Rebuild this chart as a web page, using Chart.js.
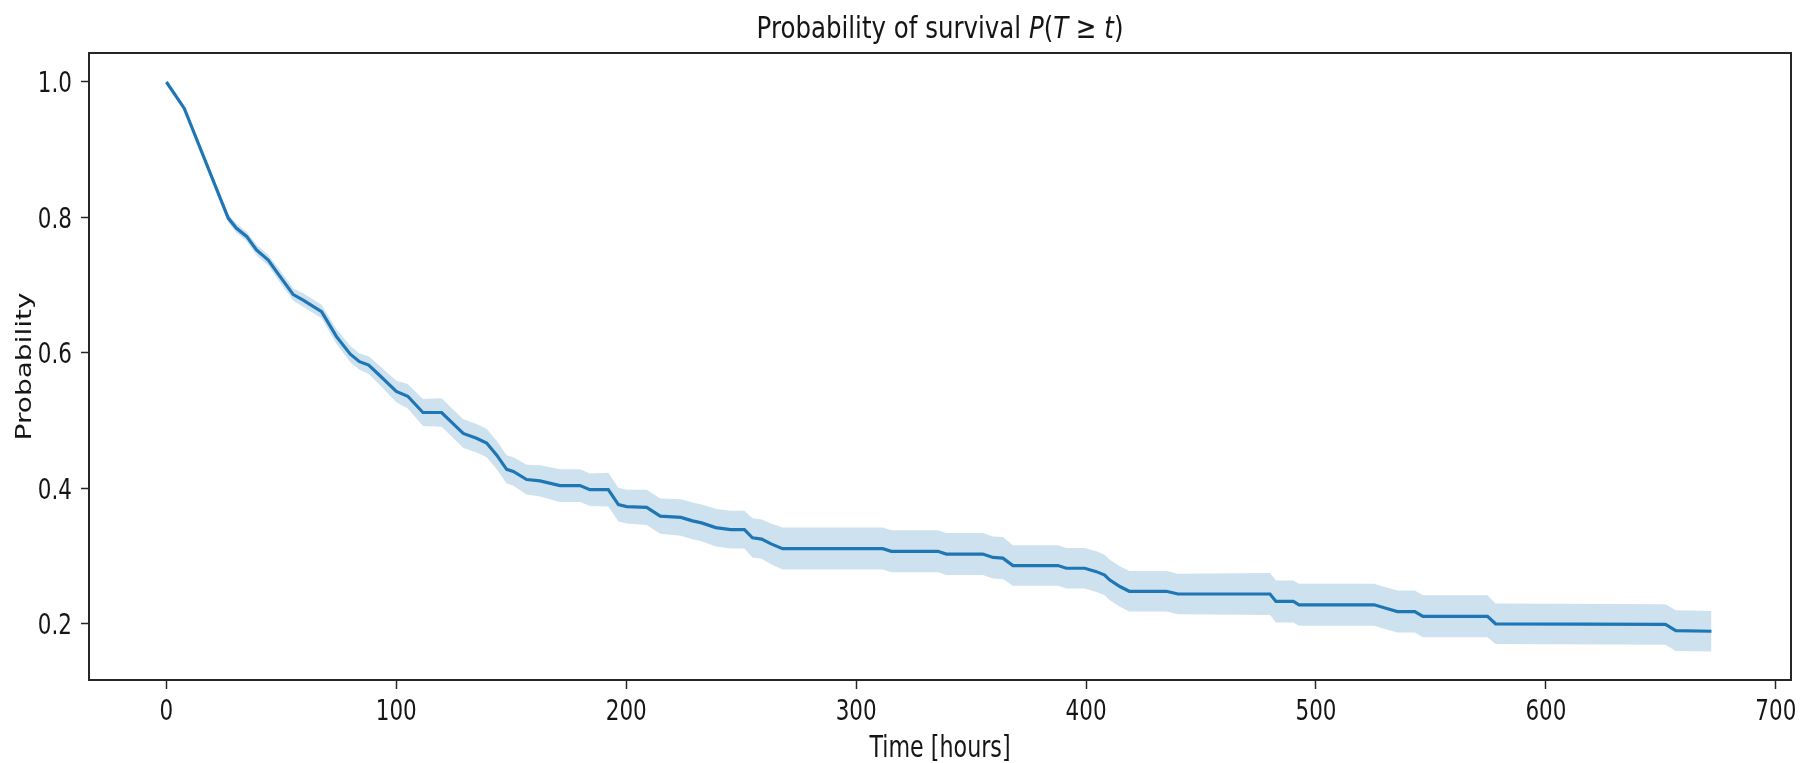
<!DOCTYPE html>
<html>
<head>
<meta charset="utf-8">
<script src="https://cdn.jsdelivr.net/npm/chart.js@4.4.1/dist/chart.umd.min.js"></script>
<style>
  html, body { margin: 0; padding: 0; background: #fff; }
  #wrap { width: 1811px; height: 763px; position: relative; }
</style>
</head>
<body>
<div id="wrap"><canvas id="survChart"></canvas></div>
<script>
// survival curve
const times = [0, 7.8, 26.9, 30.5, 34.9, 39.2, 44.3, 49.4, 55.2, 59.5, 67.5, 74, 80, 84, 88, 92.7,
  100, 105, 111.6, 119.7, 129.1, 134.9, 139.3, 143.7, 148, 150.9, 156.7, 162.5, 171.2, 179.9,
  184.2, 192.2, 196.6, 200.2, 208.9, 214.8, 223.8, 228.8, 232.8, 238.9, 245.4, 251.4, 254.9,
  258.9, 263, 268, 311.6, 315.3, 335.6, 339.2, 355.1, 359.5, 363.8, 368.2, 387.8, 391.4, 399.4,
  404.5, 408.1, 410.2, 414.7, 418.8, 434.9, 440, 480, 482.6, 490.2, 492.6, 525.3, 530.4, 535.4,
  543, 546.5, 574.6, 578.1, 652, 656.5, 672];

const survival = [1.0, 0.961, 0.799, 0.784, 0.772, 0.752, 0.737, 0.713, 0.686, 0.678, 0.661, 0.624,
  0.598, 0.587, 0.582, 0.567, 0.543, 0.536, 0.512, 0.512, 0.481, 0.474, 0.467, 0.449, 0.428, 0.425,
  0.413, 0.411, 0.404, 0.404, 0.398, 0.398, 0.376, 0.373, 0.372, 0.359, 0.357, 0.352, 0.349, 0.342,
  0.339, 0.339, 0.327, 0.325, 0.318, 0.311, 0.311, 0.307, 0.307, 0.303, 0.303, 0.298, 0.297, 0.286,
  0.286, 0.282, 0.282, 0.277, 0.272, 0.265, 0.255, 0.248, 0.248, 0.244, 0.244, 0.233, 0.233, 0.228,
  0.228, 0.223, 0.218, 0.218, 0.211, 0.211, 0.200, 0.199, 0.190, 0.189];

const lower = [1.0, 0.958, 0.793, 0.777, 0.765, 0.744, 0.729, 0.704, 0.677, 0.668, 0.651, 0.613,
  0.586, 0.575, 0.569, 0.553, 0.527, 0.518, 0.492, 0.491, 0.460, 0.453, 0.446, 0.428, 0.407, 0.404,
  0.391, 0.388, 0.380, 0.380, 0.374, 0.373, 0.351, 0.348, 0.346, 0.333, 0.330, 0.325, 0.322, 0.314,
  0.311, 0.311, 0.298, 0.296, 0.288, 0.280, 0.280, 0.276, 0.276, 0.272, 0.272, 0.267, 0.266, 0.256,
  0.256, 0.252, 0.252, 0.247, 0.242, 0.235, 0.225, 0.218, 0.218, 0.214, 0.213, 0.202, 0.202, 0.197,
  0.197, 0.192, 0.187, 0.187, 0.180, 0.180, 0.170, 0.169, 0.160, 0.159];

const upper = [1.0, 0.964, 0.805, 0.791, 0.779, 0.760, 0.745, 0.722, 0.695, 0.688, 0.671, 0.635,
  0.610, 0.599, 0.595, 0.581, 0.559, 0.554, 0.532, 0.533, 0.502, 0.495, 0.488, 0.470, 0.449, 0.446,
  0.435, 0.434, 0.428, 0.428, 0.422, 0.423, 0.401, 0.398, 0.398, 0.385, 0.384, 0.379, 0.376, 0.370,
  0.367, 0.367, 0.356, 0.354, 0.348, 0.342, 0.342, 0.338, 0.338, 0.334, 0.334, 0.329, 0.328, 0.316,
  0.316, 0.312, 0.312, 0.307, 0.302, 0.295, 0.285, 0.278, 0.278, 0.274, 0.275, 0.264, 0.264, 0.259,
  0.259, 0.254, 0.249, 0.249, 0.242, 0.242, 0.230, 0.229, 0.220, 0.219];

const xTicks = [0, 100, 200, 300, 400, 500, 600, 700];
const yTicks = [0.2, 0.4, 0.6, 0.8, 1.0];

const titleParts = [
  { text: 'Probability of survival ', italic: false },
  { text: 'P', italic: true },
  { text: '(', italic: false },
  { text: 'T', italic: true },
  { text: ' \u2265 ', italic: false },
  { text: 't', italic: true },
  { text: ')', italic: false }
];
const xLabel = 'Time [hours]';
const yLabel = 'Probability';

const FONT = "'DejaVu Sans', sans-serif";
const SQUEEZE = 0.74;   // the picture's text is narrow, as if squashed sideways
const BLUE = '#1f77b4';
const SPINE = '#262626';
const INK = '#151515';

function pts(ys) {
  return times.map((t, i) => ({ x: t, y: ys[i] }));
}

// draw text squeezed horizontally (sx) at x,y
function squeezed(ctx, text, x, y, font, sx, align) {
  ctx.save();
  ctx.font = font;
  ctx.textAlign = align;
  ctx.translate(x, y);
  ctx.scale(sx, 1);
  ctx.fillText(text, 0, 0);
  ctx.restore();
}

// all text + top/right spines
const textAndFrame = {
  id: 'textAndFrame',
  afterDraw(chart) {
    const { ctx, chartArea: a, scales } = chart;
    ctx.save();
    ctx.strokeStyle = SPINE;
    ctx.lineWidth = 2;
    ctx.strokeRect(a.left, a.top, a.right - a.left, a.bottom - a.top);
    ctx.fillStyle = INK;
    ctx.textBaseline = 'alphabetic';

    // title with italic math letters
    const fontFor = p => (p.italic ? 'italic ' : '') + '31px ' + FONT;
    let total = 0;
    titleParts.forEach(p => { ctx.font = fontFor(p); total += ctx.measureText(p.text).width * 0.79; });
    let x = (a.left + a.right) / 2 - total / 2;
    titleParts.forEach(p => {
      squeezed(ctx, p.text, x, 38, fontFor(p), 0.79, 'left');
      ctx.font = fontFor(p);
      x += ctx.measureText(p.text).width * 0.79;
    });

    // x tick labels
    xTicks.forEach(v => {
      squeezed(ctx, String(v), scales.x.getPixelForValue(v), 720, '29px ' + FONT, SQUEEZE, 'center');
    });
    // y tick labels
    yTicks.forEach(v => {
      squeezed(ctx, v.toFixed(1), a.left - 17, scales.y.getPixelForValue(v) + 10.5, '29px ' + FONT, SQUEEZE, 'right');
    });

    // axis titles
    squeezed(ctx, xLabel, (a.left + a.right) / 2, 757, '30px ' + FONT, SQUEEZE, 'center');

    ctx.save();
    ctx.translate(31, (a.top + a.bottom) / 2);
    ctx.rotate(-Math.PI / 2);
    ctx.scale(1, SQUEEZE);
    ctx.font = '28px ' + FONT;
    ctx.textAlign = 'center';
    ctx.fillText(yLabel, 0, 0);
    ctx.restore();

    ctx.restore();
  }
};

new Chart(document.getElementById('survChart'), {
  type: 'line',
  data: {
    datasets: [
      {
        label: 'lower',
        data: pts(lower),
        borderWidth: 0,
        pointRadius: 0,
        fill: false
      },
      {
        label: 'upper',
        data: pts(upper),
        borderWidth: 0,
        pointRadius: 0,
        backgroundColor: 'rgba(31,119,180,0.22)',
        fill: '-1'
      },
      {
        label: 'survival',
        data: pts(survival),
        borderColor: BLUE,
        borderWidth: 3.2,
        pointRadius: 0,
        tension: 0,
        fill: false
      }
    ]
  },
  options: {
    responsive: true,
    maintainAspectRatio: false,
    devicePixelRatio: 1,
    animation: false,
    layout: { padding: { top: 53, right: 20, left: 0, bottom: 0 } },
    plugins: {
      legend: { display: false },
      tooltip: { enabled: false },
      title: { display: false }
    },
    scales: {
      x: {
        type: 'linear',
        min: -33.65,
        max: 706.6,
        afterBuildTicks: s => { s.ticks = xTicks.map(v => ({ value: v })); },
        afterFit: s => { s.height = 83; },
        ticks: { display: false },
        grid: { drawOnChartArea: false, drawTicks: true, tickLength: 9, tickWidth: 1.5, tickColor: SPINE },
        border: { display: true, color: SPINE, width: 2 }
      },
      y: {
        type: 'linear',
        min: 0.117,
        max: 1.0428,
        afterBuildTicks: s => { s.ticks = yTicks.map(v => ({ value: v })); },
        afterFit: s => { s.width = 89; },
        ticks: { display: false },
        grid: { drawOnChartArea: false, drawTicks: true, tickLength: 8, tickWidth: 1.5, tickColor: SPINE },
        border: { display: true, color: SPINE, width: 2 }
      }
    }
  },
  plugins: [textAndFrame]
});
</script>
</body>
</html>
